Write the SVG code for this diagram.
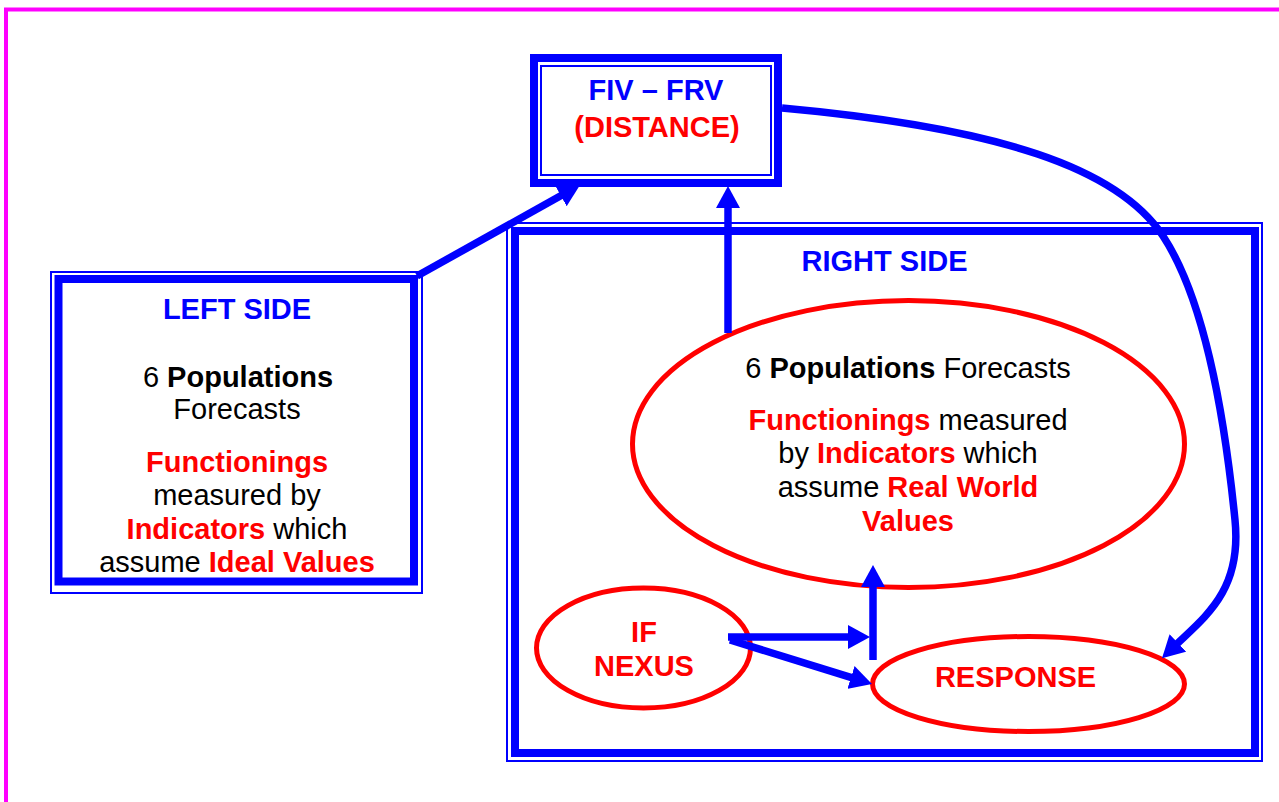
<svg xmlns="http://www.w3.org/2000/svg" width="1279" height="802" viewBox="0 0 1279 802">
<style>
text{font-family:"Liberation Sans",Arial,sans-serif;font-size:29px;text-anchor:middle;fill:#000}
.b{font-weight:bold}
.blue{fill:#0000FF}
.red{fill:#FF0000}
.thick{fill:none;stroke:#0000FF;stroke-width:8}
.thin{fill:none;stroke:#0000FF;stroke-width:2}
.ell{fill:none;stroke:#FF0000;stroke-width:5}
.conn{fill:none;stroke:#0000FF;stroke-width:7.5;marker-end:url(#ah)}
</style>
<defs>
<marker id="ah" markerUnits="userSpaceOnUse" viewBox="0 0 22 24" markerWidth="22" markerHeight="24" refX="4" refY="12" orient="auto">
<path d="M0,0 L22,12 L0,24 z" fill="#0000FF"/>
</marker>
</defs>
<rect x="6" y="9.5" width="1290" height="810" fill="none" stroke="#FF00FF" stroke-width="4"/>

<g id="fiv">
<rect class="thick" x="534" y="58" width="244" height="125"/>
<rect class="thin" x="541" y="66" width="230" height="109"/>
<text x="656" y="100" class="b blue">FIV – FRV</text>
<text x="657" y="137" class="b red">(DISTANCE)</text>
</g>

<g id="left">
<rect class="thin" x="51" y="272" width="371" height="321"/>
<rect class="thick" x="58.5" y="279" width="355.5" height="302.5"/>
<text x="237" y="319" class="b blue">LEFT SIDE</text>
<text x="238" y="387">6 <tspan class="b">Populations</tspan></text>
<text x="237" y="419">Forecasts</text>
<text x="237" y="472" class="b red">Functionings</text>
<text x="237" y="505">measured by</text>
<text x="237" y="539"><tspan class="b red">Indicators</tspan> which</text>
<text x="237" y="572">assume <tspan class="b red">Ideal Values</tspan></text>
</g>

<g id="right">
<rect class="thin" x="507" y="223" width="755" height="538"/>
<rect class="thick" x="515" y="231" width="740" height="522"/>
<text x="884.5" y="271" class="b blue">RIGHT SIDE</text>
</g>

<g id="forecasts">
<ellipse class="ell" cx="908.5" cy="444" rx="276" ry="143.5"/>
<text x="908" y="378">6 <tspan class="b">Populations</tspan> Forecasts</text>
<text x="908" y="430"><tspan class="b red">Functionings</tspan> measured</text>
<text x="908" y="463">by <tspan class="b red">Indicators</tspan> which</text>
<text x="908" y="497">assume <tspan class="b red">Real World</tspan></text>
<text x="908" y="531" class="b red">Values</text>
</g>

<g id="nexus">
<ellipse class="ell" cx="643.5" cy="648" rx="107" ry="60"/>
<text x="644" y="642" class="b red">IF</text>
<text x="644" y="676" class="b red">NEXUS</text>
</g>

<g id="response">
<ellipse class="ell" cx="1028.5" cy="684" rx="156" ry="47.5"/>
<text x="1015.5" y="687" class="b red">RESPONSE</text>
</g>

<g id="connectors">
<path class="conn" d="M417,276 L564.3,193.8"/>
<path class="conn" d="M728,333 L728,204"/>
<path class="conn" d="M782,108 C1000,128 1118,168 1163,236 C1205,300 1225,420 1235,520 C1242,590 1206,616 1175,645.7"/>
<path class="conn" d="M728,637 L852,637"/>
<path class="conn" d="M873,660 L873,583"/>
<path class="conn" d="M730,640 L854.8,678.7"/>
</g>
</svg>
